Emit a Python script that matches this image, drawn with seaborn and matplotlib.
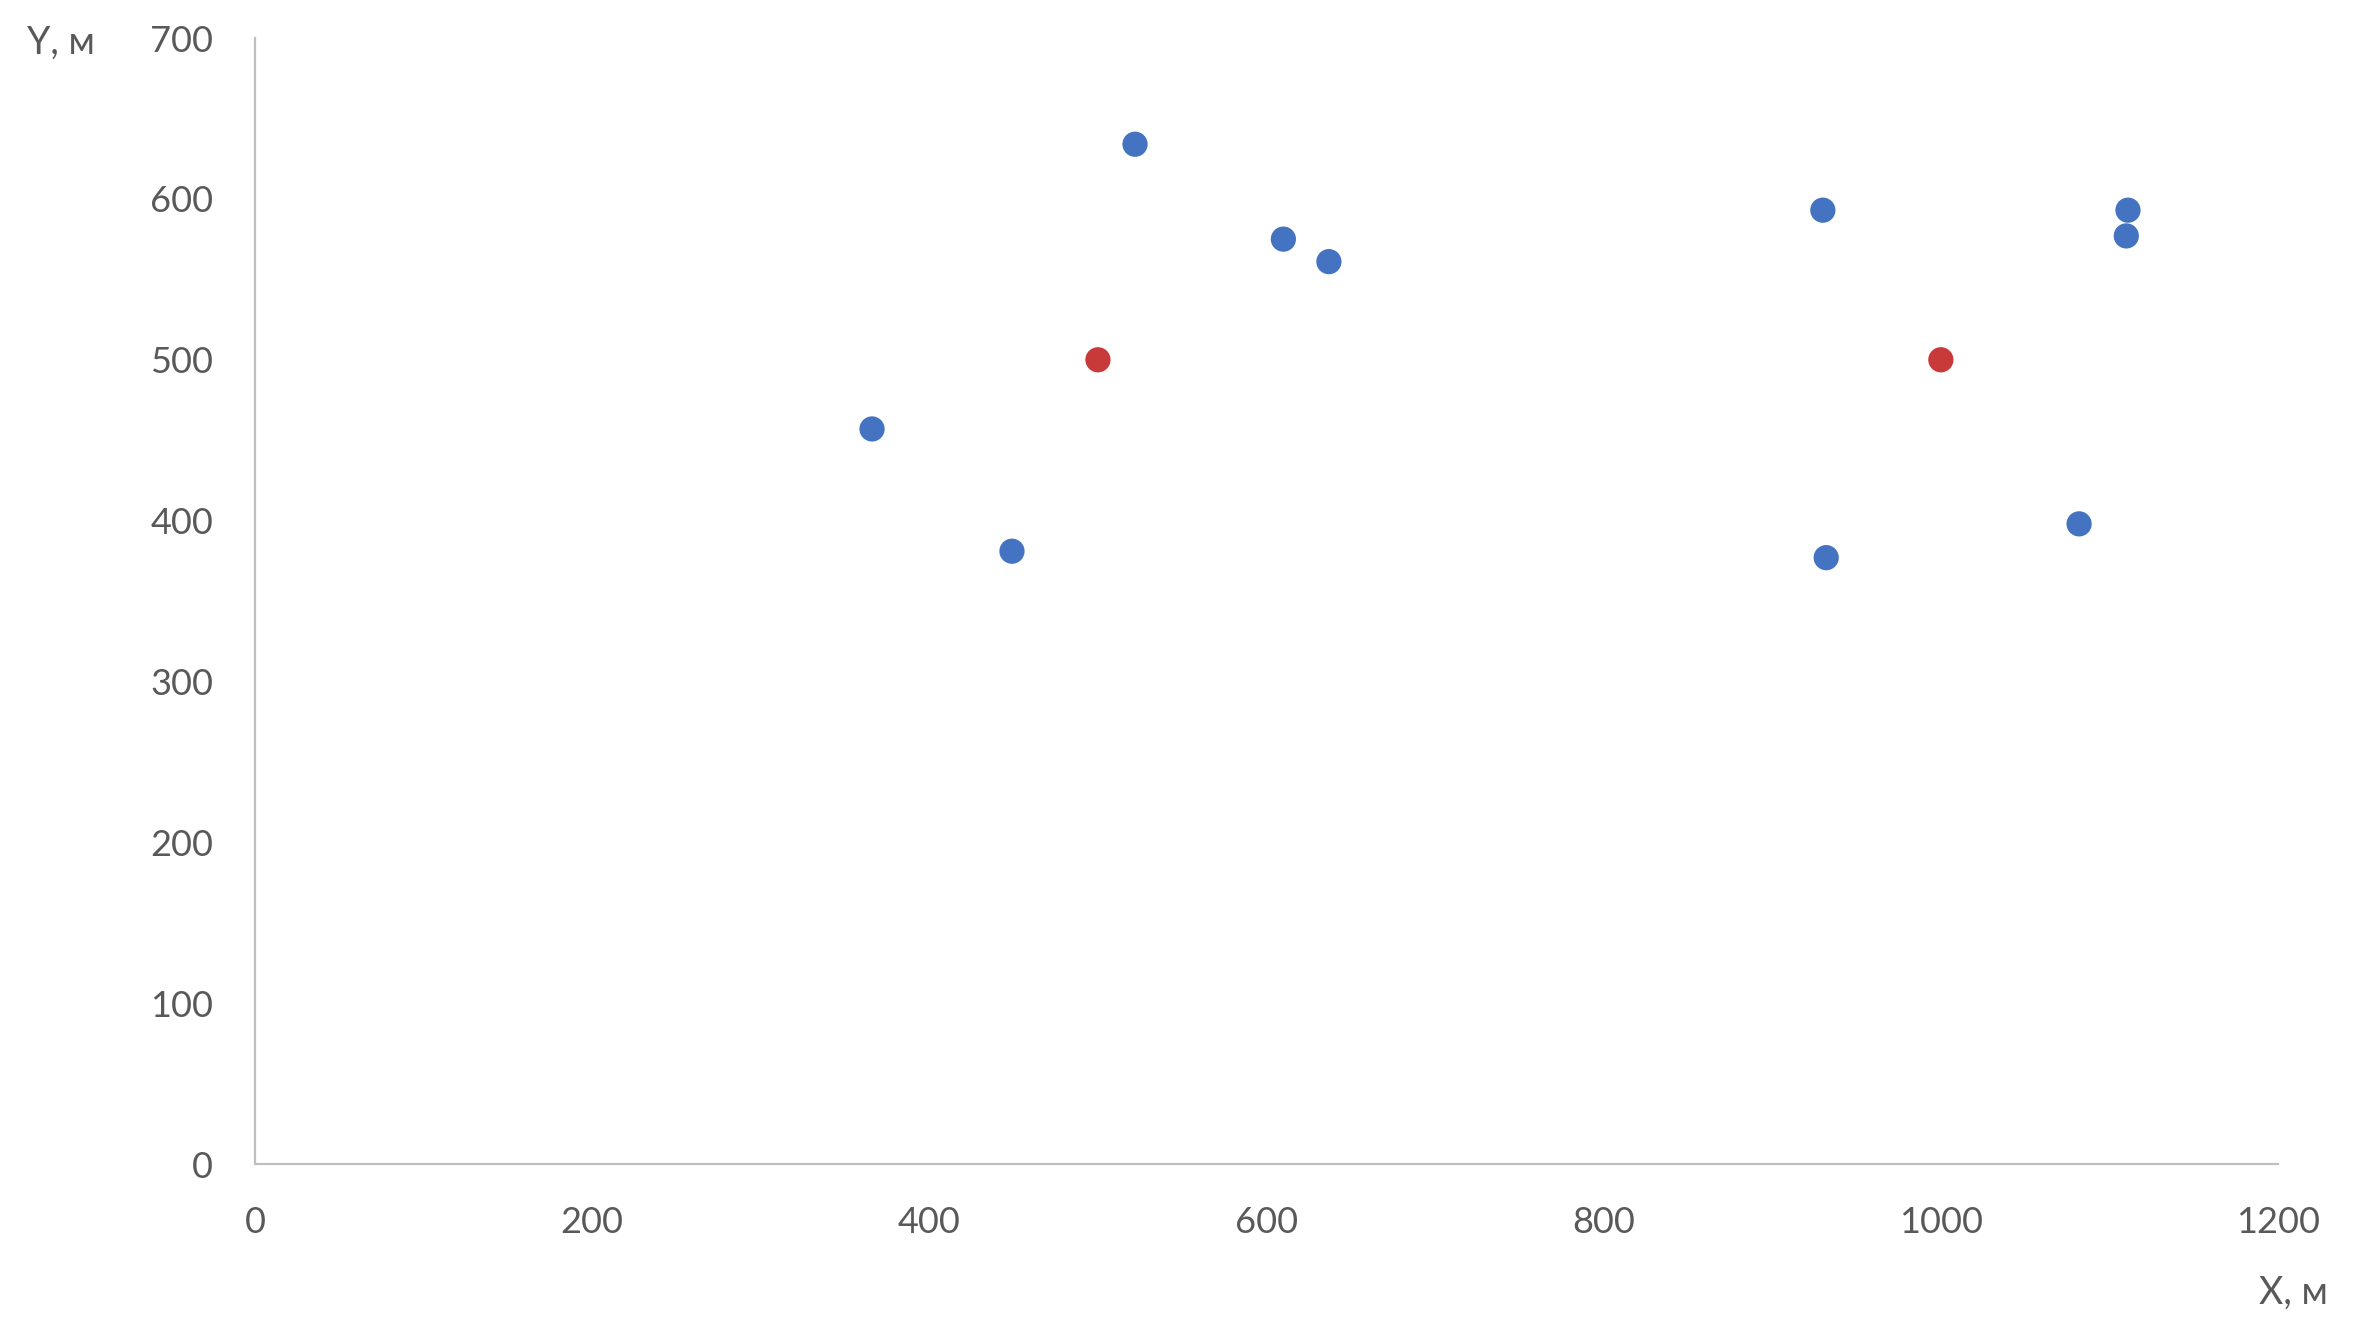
import matplotlib
matplotlib.use("Agg")
import matplotlib.pyplot as plt
import pandas as pd
import seaborn as sns

# Точки (синие) и центры (красные), координаты в метрах
POINTS_X = [366, 449, 522, 610, 637, 930, 932, 1082, 1111, 1110]
POINTS_Y = [457, 381, 634, 575, 561, 593, 377, 398, 593, 577]
CENTERS_X = [500, 1000]
CENTERS_Y = [500, 500]

X_TICKS = [0, 200, 400, 600, 800, 1000, 1200]
Y_TICKS = [0, 100, 200, 300, 400, 500, 600, 700]

BLUE = "#4473c1"
RED = "#c8393a"
TEXT_COLOR = "#595959"
AXIS_COLOR = "#bfbfbf"

sns.set_theme(style="white")
plt.rcParams["font.family"] = ["Lato", "DejaVu Sans"]

df = pd.concat(
    [
        pd.DataFrame({"x": POINTS_X, "y": POINTS_Y, "kind": "point"}),
        pd.DataFrame({"x": CENTERS_X, "y": CENTERS_Y, "kind": "center"}),
    ],
    ignore_index=True,
)

fig = plt.figure(figsize=(23.68, 13.35), dpi=100)
ax = fig.add_axes([0.1077, 0.128, 0.8543, 0.8435])

sns.scatterplot(
    data=df, x="x", y="y", hue="kind",
    palette={"point": BLUE, "center": RED},
    s=330, linewidth=0, legend=False, ax=ax,
)

ax.set_xlim(0, 1200)
ax.set_ylim(0, 700)
ax.set_xticks(X_TICKS)
ax.set_yticks(Y_TICKS)
ax.tick_params(axis="both", length=0, labelsize=26, labelcolor=TEXT_COLOR)
ax.tick_params(axis="x", pad=30)
ax.tick_params(axis="y", pad=30)

for side in ("top", "right"):
    ax.spines[side].set_visible(False)
for side in ("left", "bottom"):
    ax.spines[side].set_color(AXIS_COLOR)
    ax.spines[side].set_linewidth(1.6)

ax.set_xlabel("X, м", fontsize=27, color=TEXT_COLOR)
ax.set_ylabel("Y, м", fontsize=27, color=TEXT_COLOR, rotation=0)
ax.xaxis.set_label_coords(1.0074, -0.1146)
ax.yaxis.set_label_coords(-0.096, 0.9956)
ax.xaxis.label.set_va("center")
ax.yaxis.label.set_va("center")
ax.yaxis.label.set_ha("center")

fig.savefig("out.png", dpi=100)
